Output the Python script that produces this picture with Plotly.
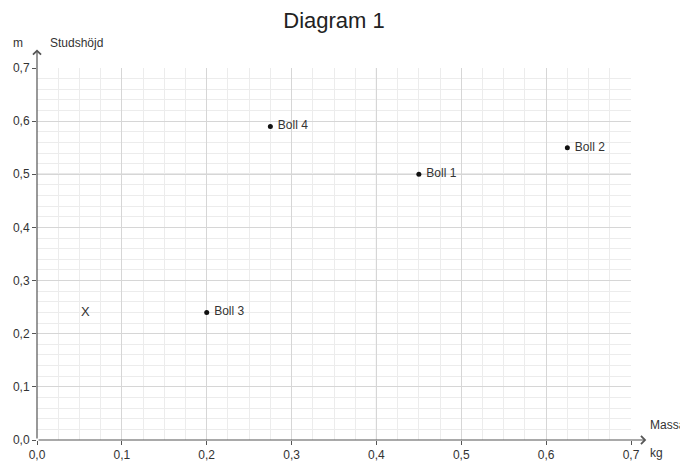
import plotly.graph_objects as go

# Data
names = ["Boll 1", "Boll 2", "Boll 3", "Boll 4"]
massa = [0.45, 0.625, 0.2, 0.275]
studshojd = [0.5, 0.55, 0.24, 0.59]
unknown_label = "X"
unknown_x = 0.057
unknown_y = 0.24
x_tick_vals = [0.0, 0.1, 0.2, 0.3, 0.4, 0.5, 0.6, 0.7]
y_tick_vals = [0.0, 0.1, 0.2, 0.3, 0.4, 0.5, 0.6, 0.7]
x_tick_text = ["0,0", "0,1", "0,2", "0,3", "0,4", "0,5", "0,6", "0,7"]
y_tick_text = ["0,0", "0,1", "0,2", "0,3", "0,4", "0,5", "0,6", "0,7"]
highlight_x = 0.4
highlight_y = 0.5

FONT = "Liberation Sans, Arial, sans-serif"
TXT = "#333333"
AXC = "#555555"

fig = go.Figure()

fig.add_trace(go.Scatter(
    x=massa, y=studshojd, mode="markers+text",
    text=[" " + n for n in names], textposition="middle right",
    textfont=dict(family=FONT, size=12, color=TXT),
    marker=dict(size=5, color="#111111"),
    cliponaxis=False, showlegend=False, hoverinfo="skip",
))
fig.add_trace(go.Scatter(
    x=[unknown_x], y=[unknown_y], mode="text", text=[unknown_label],
    textfont=dict(family=FONT, size=13, color=TXT),
    showlegend=False, hoverinfo="skip",
))

# highlighted grid lines
fig.add_shape(type="line", xref="x", yref="paper", x0=highlight_x, x1=highlight_x,
              y0=0, y1=1, line=dict(color="#9a9a9a", width=1), layer="between")
fig.add_shape(type="line", xref="paper", yref="y", x0=0, x1=1,
              y0=highlight_y, y1=highlight_y, line=dict(color="#9a9a9a", width=1), layer="between")

# axis arrows
fig.add_annotation(x=0.718, y=0, ax=0, ay=0, xref="x", yref="y", axref="x", ayref="y",
                   text="", showarrow=True, arrowhead=4, arrowsize=1.3, arrowwidth=1.2,
                   arrowcolor=AXC)
fig.add_annotation(x=0, y=0.735, ax=0, ay=0, xref="x", yref="y", axref="x", ayref="y",
                   text="", showarrow=True, arrowhead=4, arrowsize=1.3, arrowwidth=1.2,
                   arrowcolor=AXC)

# axis labels
def lab(text, x, y, xanchor):
    fig.add_annotation(text=text, x=x, y=y, xref="paper", yref="paper", showarrow=False,
                       xanchor=xanchor, yanchor="middle",
                       font=dict(family=FONT, size=12, color=TXT))

lab("m", -0.032, 1.067, "center")
lab("Studshöjd", 0.0185, 1.067, "left")
lab("Massa", 1.0286, 0.040, "left")
lab("kg", 1.0286, -0.035, "left")

# the page body keeps the browser's default 8px margin, so the figure is
# sized 8px smaller on each side to make the whole page 688x461
fig.update_layout(
    width=680, height=453,
    margin=dict(l=29, r=57, t=60, b=21),
    paper_bgcolor="white", plot_bgcolor="white",
    font=dict(family=FONT, color=TXT),
    title=dict(text="Diagram 1", x=0.5, xref="paper", xanchor="center",
               y=0.9735, yanchor="middle",
               font=dict(family=FONT, size=22, color="#222222")),
    showlegend=False,
)
fig.update_xaxes(
    range=[0, 0.7], tickvals=x_tick_vals, ticktext=x_tick_text,
    showgrid=True, gridcolor="#d6d6d6", gridwidth=1,
    minor=dict(dtick=0.025, showgrid=True, gridcolor="#ececec", gridwidth=1),
    zeroline=False, showline=False, automargin=False,
    ticks="outside", ticklen=4, tickcolor=AXC,
    tickfont=dict(family=FONT, size=12, color=TXT),
)
fig.update_yaxes(
    range=[0, 0.7], tickvals=y_tick_vals, ticktext=y_tick_text,
    showgrid=True, gridcolor="#d6d6d6", gridwidth=1,
    minor=dict(dtick=0.02, showgrid=True, gridcolor="#ececec", gridwidth=1),
    zeroline=False, showline=False, automargin=False,
    ticks="outside", ticklen=4, tickcolor=AXC,
    tickfont=dict(family=FONT, size=12, color=TXT),
)

fig.write_html("out.html")
